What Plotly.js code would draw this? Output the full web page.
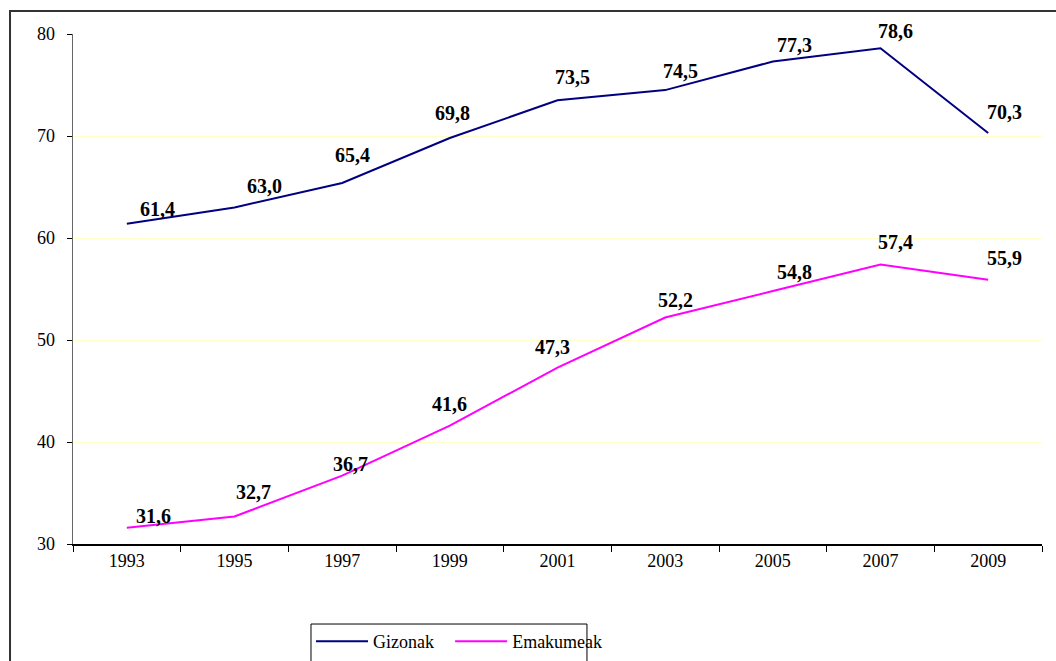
<!DOCTYPE html>
<html>
<head>
<meta charset="utf-8">
<script src="https://cdn.plot.ly/plotly-3.0.1.min.js"></script>
<style>html,body{margin:0;padding:0;background:#fff;}#chart{width:1056px;height:661px;}</style>
</head>
<body>
<div id="chart"></div>
<script>
// Data
const years = ['1993','1995','1997','1999','2001','2003','2005','2007','2009'];
const gizonak = [61.4, 63.0, 65.4, 69.8, 73.5, 74.5, 77.3, 78.6, 70.3];
const emakumeak = [31.6, 32.7, 36.7, 41.6, 47.3, 52.2, 54.8, 57.4, 55.9];
const seriesNames = ['Gizonak', 'Emakumeak'];

// Label offsets (px) relative to the data point
const gizDx = [31, 30, 10, 3, 15, 15, 22, 15, 16];
const gizDy = [15, 21, 28, 25, 23, 19, 17, 17, 21];
const emaDx = [27, 19, 8, 0, -5, 10, 22, 15, 16];
const emaDy = [12, 24, 12, 22, 21, 18, 19, 23, 22];

const fontFam = 'Liberation Serif, Times New Roman, serif';
const fmt = v => v.toFixed(1).replace('.', ',');

const traces = [
  {x: years, y: gizonak, name: seriesNames[0], type: 'scatter', mode: 'lines',
   line: {color: '#000080', width: 2}, legend: 'legend'},
  {x: years, y: emakumeak, name: seriesNames[1], type: 'scatter', mode: 'lines',
   line: {color: '#FF00FF', width: 2}, legend: 'legend2'}
];

const labelFont = {family: fontFam, size: 20, color: '#000', weight: 'bold'};
const annotations = [];
years.forEach((yr, i) => {
  annotations.push({xref: 'x', yref: 'y', x: i, y: gizonak[i], text: '<b>' + fmt(gizonak[i]) + '</b>', showarrow: false,
    xanchor: 'center', yanchor: 'middle', xshift: gizDx[i], yshift: gizDy[i], font: labelFont});
  annotations.push({xref: 'x', yref: 'y', x: i, y: emakumeak[i], text: '<b>' + fmt(emakumeak[i]) + '</b>', showarrow: false,
    xanchor: 'center', yanchor: 'middle', xshift: emaDx[i], yshift: emaDy[i], font: labelFont});
});

const legendBase = {orientation: 'h', xanchor: 'left', y: -0.155, yanchor: 'top',
  font: {family: fontFam, size: 18, color: '#000'}, borderwidth: 0, bgcolor: 'rgba(0,0,0,0)',
  itemwidth: 52};

const layout = {
  width: 1056, height: 661,
  margin: {l: 73, r: 14, t: 34, b: 117, autoexpand: false},
  paper_bgcolor: '#fff', plot_bgcolor: '#fff',
  font: {family: fontFam, color: '#000'},
  showlegend: true,
  legend: Object.assign({}, legendBase, {x: 0.2456}),
  legend2: Object.assign({}, legendBase, {x: 0.3892}),
  xaxis: {type: 'category', range: [-0.5, 8.5], tickson: 'boundaries', ticks: 'outside', ticklen: 6,
    tickcolor: '#000', showline: true, linecolor: '#000', linewidth: 1.5, showgrid: false, zeroline: false,
    tickfont: {family: fontFam, size: 18, color: '#000'}, fixedrange: true},
  yaxis: {range: [30, 80], dtick: 10, ticks: 'outside', ticklen: 5, tickcolor: '#000',
    showline: true, linecolor: '#666', linewidth: 1.5, showgrid: true, gridcolor: '#ffffc8', gridwidth: 1,
    zeroline: false, ticklabelstandoff: 8, tickfont: {family: fontFam, size: 18, color: '#000'}, fixedrange: true},
  annotations: annotations,
  shapes: [
    {type: 'rect', xref: 'paper', yref: 'paper', x0: -0.065, x1: 1.1, y0: -0.4, y1: 1.0451,
     line: {color: '#333', width: 2}, fillcolor: 'rgba(0,0,0,0)'},
    {type: 'rect', xref: 'paper', yref: 'paper', x0: 0.2456, x1: 0.5304, y0: -0.4, y1: -0.1569,
     line: {color: '#000', width: 1}, fillcolor: 'rgba(0,0,0,0)'}
  ]
};

Plotly.newPlot('chart', traces, layout, {staticPlot: true, displayModeBar: false});
</script>
</body>
</html>
